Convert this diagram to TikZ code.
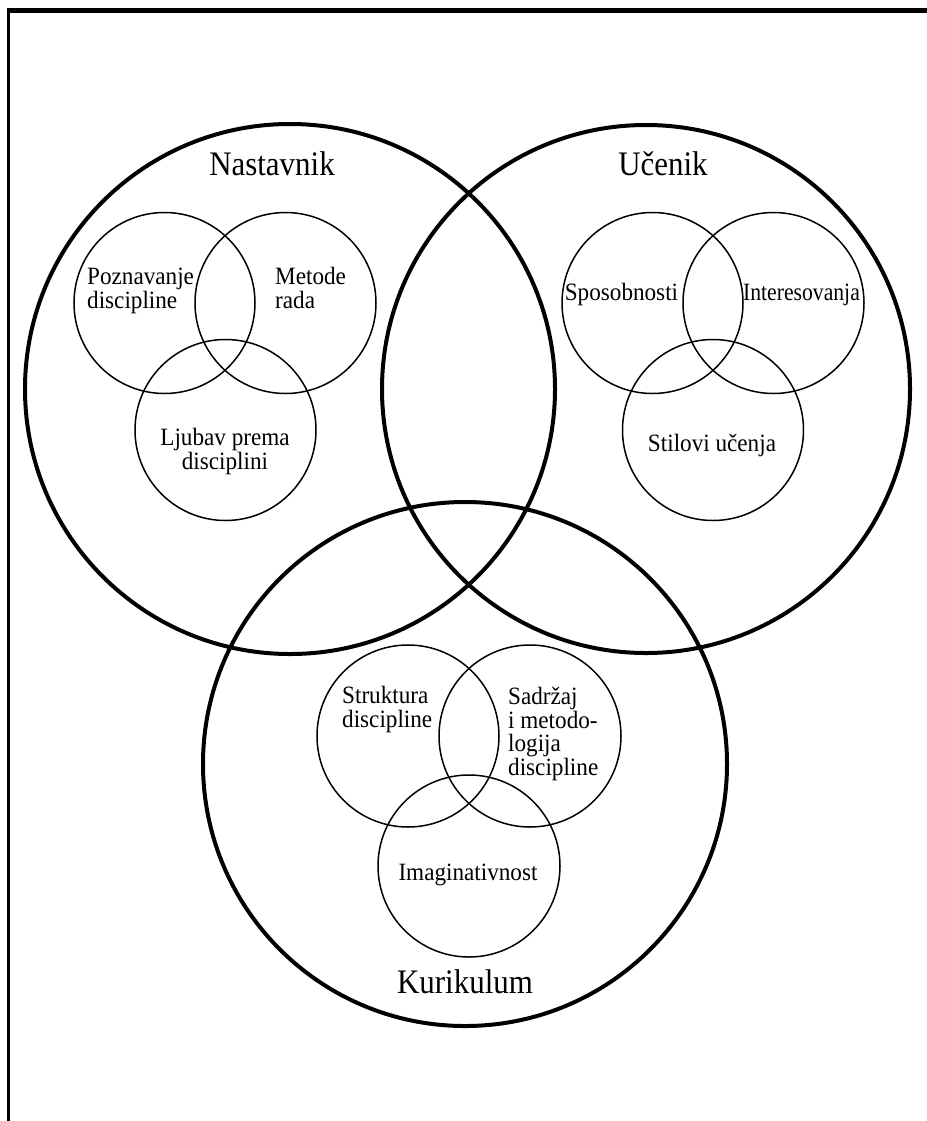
\documentclass[tikz,border=0pt]{standalone}
\usepackage{fontspec}
\setmainfont{Liberation Serif}
% slightly condensed serif faces for the labels
\newfontfamily\labelserif[FakeStretch=0.93]{Liberation Serif}
\newfontfamily\titleserif[FakeStretch=0.9]{Liberation Serif}
\newfontfamily\tightserif[FakeStretch=0.87]{Liberation Serif}
\begin{document}
\begin{tikzpicture}[x=1bp,y=-1bp,
  bigcircle/.style={draw=black,line width=4bp,circle,inner sep=0pt},
  smallcircle/.style={draw=black,line width=1.5bp,circle,inner sep=0pt,minimum size=181bp},
  title/.style={font=\titleserif\fontsize{34.5}{34.5}\selectfont,inner sep=0pt,anchor=base},
  txt/.style={font=\labelserif\fontsize{25}{23.5}\selectfont,inner sep=0pt},
  frameline/.style={draw=black}]
\useasboundingbox (0,0) rectangle (927,1121);
% frame: top edge and left edge
\coordinate (ftl) at (7,10.5);
\coordinate (ftr) at (927,10.5);
\coordinate (fl) at (8.5,8);
\coordinate (fbl) at (8.5,1121);
\draw[frameline,line width=5bp] (ftl) -- (ftr);
\draw[frameline,line width=3bp] (fl) -- (fbl);

% three main circles
\node[bigcircle,minimum size=530bp] (nast) at (290,389) {};
\node[bigcircle,minimum size=528bp] (ucen) at (646,389) {};
\node[bigcircle,minimum size=524bp] (kuri) at (465,764) {};

\node[title] (nastL) at (272,175) {Nastavnik};
\node[title] (ucenL) at (663,175) {Učenik};
\node[title] (kuriL) at (465,993) {Kurikulum};

% teacher
\node[smallcircle] (n1) at (164.5,303) {};
\node[smallcircle] (n2) at (285.5,303) {};
\node[smallcircle] (n3) at (225.5,430) {};
\node[txt,align=left,anchor=base west] (n1t) at (87,308) {Poznavanje\\discipline};
\node[txt,align=left,anchor=base west] (n2t) at (275,308) {Metode\\rada};
\node[txt,align=center,anchor=base] (n3t) at (225,469) {Ljubav prema\\disciplini};

% student
\node[smallcircle] (u1) at (652.5,303) {};
\node[smallcircle] (u2) at (773.5,303) {};
\node[smallcircle] (u3) at (713,430) {};
\node[txt,anchor=base] (u1t) at (621.5,300) {Sposobnosti};
\node[txt,anchor=base,font=\tightserif\fontsize{25}{23.5}\selectfont] (u2t) at (801.5,300) {Interesovanja};
\node[txt,anchor=base] (u3t) at (712,451) {Stilovi učenja};

% curriculum
\node[smallcircle,minimum size=182bp] (k1) at (408,736) {};
\node[smallcircle,minimum size=182bp] (k2) at (530,736) {};
\node[smallcircle,minimum size=182bp] (k3) at (469,866) {};
\node[txt,align=left,anchor=base west] (k1t) at (342,727) {Struktura\\discipline};
\node[txt,align=left,anchor=base west] (k2t) at (508,775) {Sadržaj\\i metodo-\\logija\\discipline};
\node[txt,anchor=base] (k3t) at (468,880) {Imaginativnost};
\end{tikzpicture}
\end{document}
